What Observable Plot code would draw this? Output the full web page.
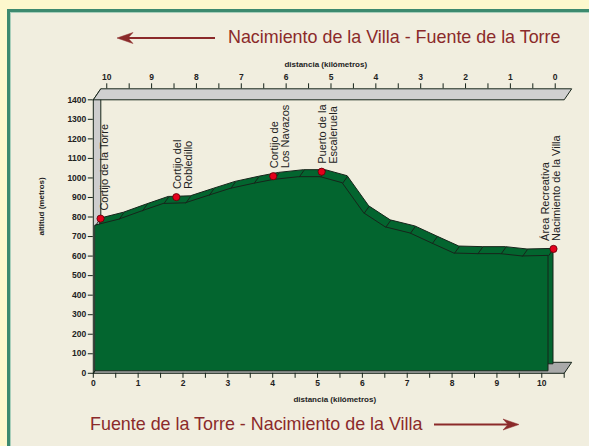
<!DOCTYPE html>
<html><head><meta charset="utf-8">
<script src="https://cdn.jsdelivr.net/npm/d3@7"></script>
<script src="https://cdn.jsdelivr.net/npm/@observablehq/plot@0.6"></script>
<style>
html,body{margin:0;padding:0;width:589px;height:446px;overflow:hidden;background:#fdf8cd;font-family:"Liberation Sans",Arial,Helvetica,sans-serif;}
#panel{position:absolute;left:7px;top:9px;width:600px;height:460px;border-left:3px solid #3d8a6f;border-top:3px solid #3d8a6f;background:#f1eedf;box-shadow:inset 1px 1px 0 #a9cfbb;}
#chart{position:absolute;left:0;top:0;}
.title{position:absolute;color:#8b2a2a;font-size:17.9px;white-space:nowrap;line-height:1;}
#arrows{position:absolute;left:0;top:0;}
</style></head>
<body>
<div id="panel"></div>
<div id="chart"></div>
<div class="title" id="t1" style="left:228px;top:29px;">Nacimiento de la Villa - Fuente de la Torre</div>
<div class="title" id="t2" style="left:90px;top:416px;">Fuente de la Torre - Nacimiento de la Villa</div>
<svg id="arrows" width="589" height="446">
  <g fill="#8b2a2a" stroke="#8b2a2a">
    <line x1="215" y1="38" x2="124" y2="38" stroke-width="2.2"/>
    <path d="M117,38 L133,32.5 L128,38 L133,43.5 Z" stroke-width="0.5"/>
    <line x1="434" y1="424.5" x2="512" y2="424.5" stroke-width="2.2"/>
    <path d="M519,424.5 L503,419 L508,424.5 L503,430 Z" stroke-width="0.5"/>
  </g>
</svg>
<script>
// ---- data ----
const distanceKm = [0.05, 0.57, 1.09, 1.57, 2.06, 2.58, 3.06, 3.58, 4.03, 4.59, 5.07, 5.56, 6.04, 6.52, 7.07, 7.56, 8.05, 8.57, 9.09, 9.57, 10.15];
const altitudeM  = [756, 786, 829, 867, 870, 909, 944, 970, 990, 1004, 1004, 973, 819, 747, 716, 664, 613, 610, 610, 598, 601];
const placeNames = ["Cortijo de la Torre", "Cortijo del\nRobledillo", "Cortijo de\nLos Navazos", "Puerto de la\nEscaleruela", "Área Recreativa\nNacimiento de la Villa"];
const placeKm    = [0.05, 1.74, 3.9, 4.98, 10.15];
const placeAltM  = [756, 866, 973, 996, 601];
const altitudeTicks = [0,100,200,300,400,500,600,700,800,900,1000,1100,1200,1300,1400];
const bottomTicks = [0,0.5,1,1.5,2,2.5,3,3.5,4,4.5,5,5.5,6,6.5,7,7.5,8,8.5,9,9.5,10,10.5];
const topTicks = [10,9.5,9,8.5,8,7.5,7,6.5,6,5.5,5,4.5,4,3.5,3,2.5,2,1.5,1,0.5,0];
const topTickLabels = [10,9,8,7,6,5,4,3,2,1,0];
const xLabel = "distancia (kilómetros)";
const yLabel = "altitud (metros)";
const TOP_ORIGIN_KM = 10.3; // top axis (reverse direction) zero, on the bottom scale

// ---- layout ----
const W = 589, H = 446, ML = 92.8, MR = 25.3, MT = 99.3, MB = 73.2;
const X_MAX = 10.5, Y_MAX = 1400;
const pxPerKm = (W - ML - MR) / X_MAX, pxPerM = (H - MT - MB) / Y_MAX;
const km = px => px / pxPerKm, m = px => px / pxPerM;
const BOX_DX = 7.5, BOX_DY = 11;
const BAND_DX = 5, BAND_DY = 7;
const BASE = m(2);
const GREEN = "#03652f", DARK = "#17251b", INK = "#222";

const profile = distanceKm.map((d, i) => ({d, alt: altitudeM[i]}));
const places = placeNames.map((name, i) => ({name, d: placeKm[i], alt: placeAltM[i]}));

const poly = (pts, id) => pts.map(([x, y]) => ({x, y, id}));
const bx = km(BOX_DX), by = m(BOX_DY);
const floor = poly([[0,0],[X_MAX,0],[X_MAX+bx,by],[bx,by],[0,0]], "floor");
const wall = poly([[0,0],[0,Y_MAX],[bx,Y_MAX+by],[bx,by],[0,0]], "wall");
const roof = poly([[0,Y_MAX],[X_MAX,Y_MAX],[X_MAX+bx,Y_MAX+by],[bx,Y_MAX+by],[0,Y_MAX]], "roof");

const labelOpts = {x: "d", y: "alt", text: "name", rotate: -90, textAnchor: "start", fontSize: 11, fontWeight: "normal", lineHeight: 1.0, fill: INK, dy: -15};

const chart = Plot.plot({
  width: W, height: H,
  marginLeft: ML, marginRight: MR, marginTop: MT, marginBottom: MB,
  x: {domain: [0, X_MAX]},
  y: {domain: [0, Y_MAX]},
  style: {background: "transparent", fontFamily: "'Liberation Sans', Arial, Helvetica, sans-serif", fontSize: "8.5px", fontWeight: "bold", color: INK, overflow: "visible"},
  marks: [
    Plot.line(floor, {x: "x", y: "y", fill: "#a9a9a9", stroke: DARK, strokeWidth: 1}),
    Plot.line(wall, {x: "x", y: "y", fill: "#cdcdcd", stroke: DARK, strokeWidth: 1}),
    Plot.line(roof, {x: "x", y: "y", fill: "#d0d0d0", stroke: DARK, strokeWidth: 1}),
    // extruded back face of the profile
    Plot.area(profile, {x1: "d", y1: BASE, y2: "alt", dx: BAND_DX, dy: -BAND_DY, fill: GREEN, stroke: DARK, strokeWidth: 1}),
    // front face
    Plot.area(profile, {x1: "d", y1: BASE, y2: "alt", fill: GREEN, stroke: DARK, strokeWidth: 1}),
    Plot.link(profile, {x1: "d", y1: "alt", x2: p => p.d + km(BAND_DX), y2: p => p.alt + m(BAND_DY), stroke: DARK, strokeWidth: 1}),
    Plot.dot(places, {x: "d", y: "alt", dx: BAND_DX, dy: -BAND_DY, r: 3.6, fill: "#e4001b", stroke: "#5a0008", strokeWidth: 0.8}),
    Plot.text(places.slice(0, 1), {...labelOpts, lineAnchor: "top", dx: BAND_DX}),
    Plot.text(places.slice(1, 4), {...labelOpts, lineAnchor: "top", dx: BAND_DX - 3}),
    Plot.text(places.slice(4), {...labelOpts, lineAnchor: "top", dx: BAND_DX - 12}),
    // axes
    Plot.axisX(bottomTicks, {anchor: "bottom", tickSize: 5, tickPadding: 2, tickFormat: d => Number.isInteger(d) ? String(d) : "", label: null, stroke: DARK}),
    Plot.axisY(altitudeTicks, {anchor: "left", tickSize: 5, tickPadding: 2, tickFormat: d => String(d), label: null, stroke: DARK}),
    Plot.ruleX(topTicks, {x: t => TOP_ORIGIN_KM - t, y1: Y_MAX + by, y2: Y_MAX + by + m(5), stroke: DARK}),
    Plot.text(topTickLabels, {x: t => TOP_ORIGIN_KM - t, y: Y_MAX + by, dy: -11.5, text: t => String(t), fill: INK}),
    Plot.text([xLabel], {frameAnchor: "bottom", dy: 28.5, dx: 6, fontSize: 8, fill: INK}),
    Plot.text([xLabel], {frameAnchor: "top", dy: -38, dx: -3, fontSize: 8, fill: INK}),
    Plot.text([yLabel], {frameAnchor: "left", rotate: -90, dx: -52, dy: -1, fontSize: 8, fill: INK})
  ]
});
document.getElementById("chart").appendChild(chart);
</script>
</body></html>
